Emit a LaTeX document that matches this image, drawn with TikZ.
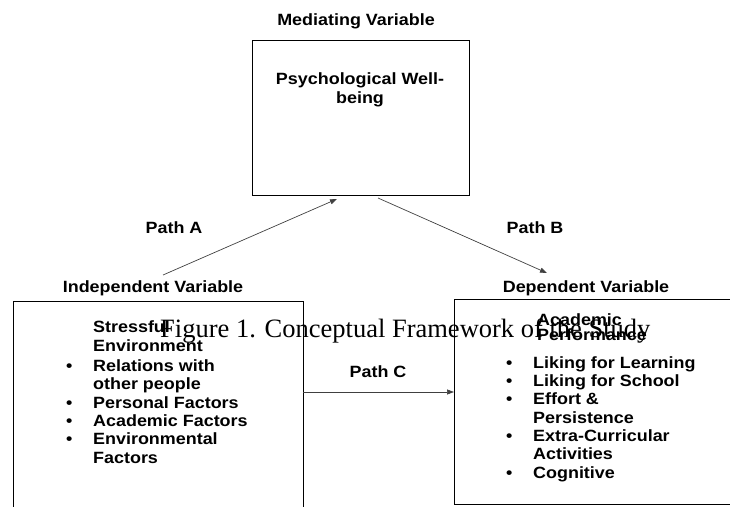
\documentclass[tikz,border=0pt]{standalone}
\usepackage{fontspec}
\setmainfont{Liberation Serif}
\newfontfamily\diagfont{Liberation Sans}[FakeStretch=1.1]
\usetikzlibrary{arrows.meta, positioning}

\newcommand{\itm}{\llap{\makebox[27pt][l]{\textbullet}}}

\begin{document}
\begin{tikzpicture}[
      x=1pt, y=-1pt,
      box/.style={draw, line width=0.8pt, inner sep=0pt, outer sep=0pt},
      lbl/.style={inner sep=0pt, font=\diagfont\bfseries\fontsize{16.3}{18.3}\selectfont},
      arr/.style={-{Triangle[length=7pt,width=5pt]}, line width=0.7pt, black!75}
    ]
    \useasboundingbox (0,0) rectangle (730,506);

    % boxes
    \node[box, minimum width=217pt, minimum height=155pt] (medbox) at (360.5,117.5) {};
    \node[box, minimum width=290pt, minimum height=240pt] (lbox) at (158,421) {};
    \node[box, minimum width=306pt, minimum height=205pt] (rbox) at (607,401.5) {};

    % headings and path labels
    \node[lbl, anchor=base] (medhead) at (356,25) {Mediating Variable};
    \node[lbl, anchor=base] (indhead) at (153,292) {Independent Variable};
    \node[lbl, anchor=base] (dephead) at (586,292) {Dependent Variable};
    \node[lbl, anchor=base] (pathA) at (174,233) {Path A};
    \node[lbl, anchor=base] (pathB) at (535,233) {Path B};
    \node[lbl, anchor=base] (pathC) at (378,377) {Path C};

    % box contents (base = last line)
    \node[lbl, align=center, anchor=base] (medtxt) at (360,103) {Psychological Well-\\being};
    \node[lbl, align=left, anchor=base west] (stress) at (93,463)
      {Stressful\\Environment\\[2pt]
       \itm Relations with\\other people\\
       \itm Personal Factors\\
       \itm Academic Factors\\
       \itm Environmental\\Factors};
    \node[lbl, align=left, anchor=base west,
          font=\diagfont\bfseries\fontsize{16.3}{15}\selectfont] (perf) at (537,340)
      {Academic\\Performance};
    \node[lbl, align=left, anchor=base west] (perflist) at (533,478)
      {\itm Liking for Learning\\
       \itm Liking for School\\
       \itm Effort \&\\Persistence\\
       \itm Extra-Curricular\\Activities\\
       \itm Cognitive};

    % paths
    \coordinate (aTail) at (163,275);
    \coordinate (aTip) at (337,199);
    \coordinate (bTail) at (378,198);
    \coordinate (bTip) at (547,273);
    \coordinate (cLevel) at (0,392);
    \draw[arr] (aTail) -- (aTip);
    \draw[arr] (bTail) -- (bTip);
    \draw[arr] (lbox.east |- cLevel) -- (rbox.west |- cLevel);

    % caption
    \node[inner sep=0pt, anchor=base west, font=\fontsize{26.5}{30}\selectfont] (caption) at (160,337)
      {Figure 1. Conceptual Framework of the Study};
  \end{tikzpicture}
\end{document}
